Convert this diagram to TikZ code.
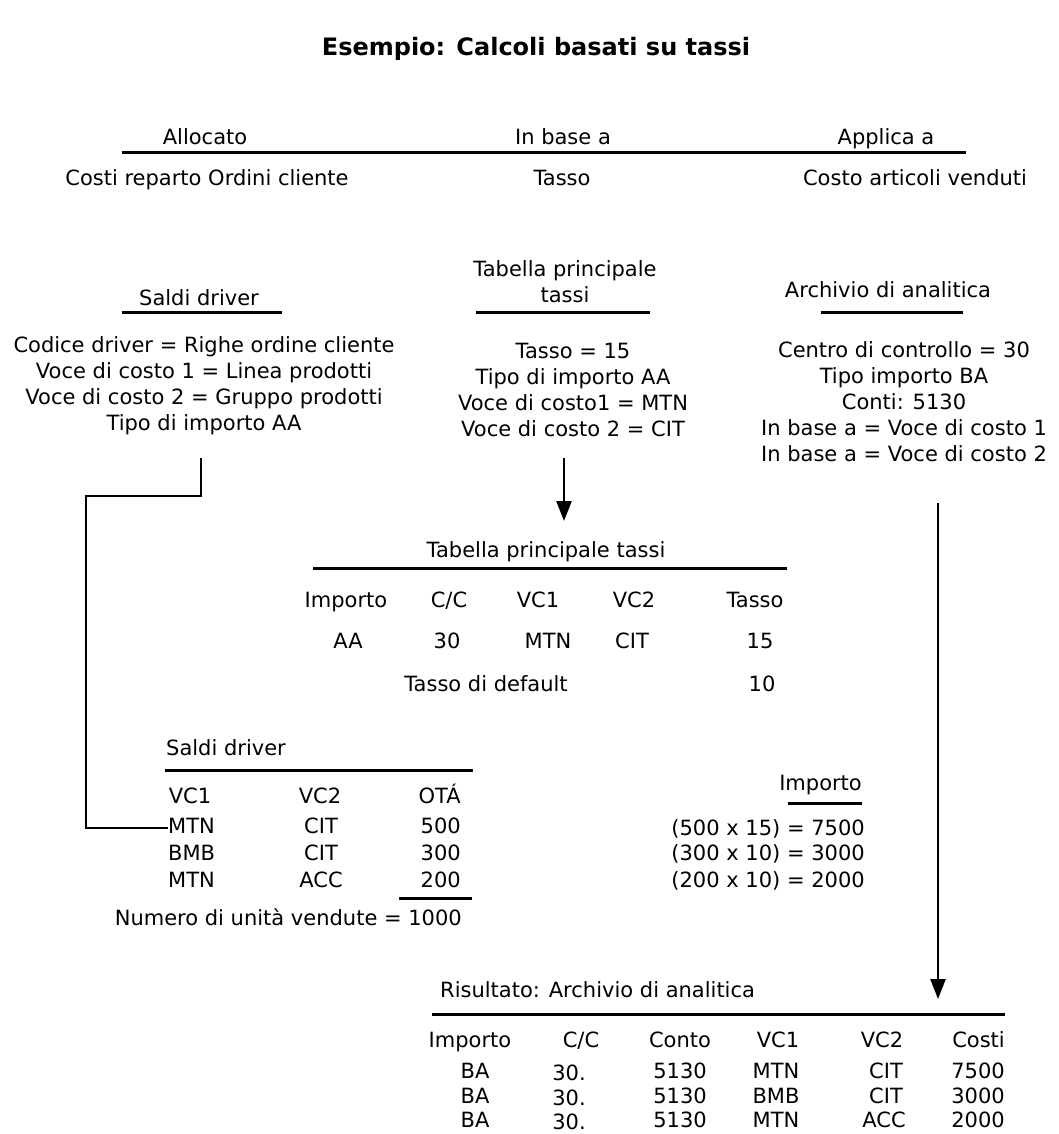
\documentclass[tikz,border=0pt]{standalone}
\usepackage{fontspec}
\setmainfont{DejaVu Sans}
\usepackage{tikz}
\usetikzlibrary{arrows.meta,positioning}

\begin{document}
\begin{tikzpicture}[x=1pt, y=-1pt,
    lbl/.style={inner sep=0pt, text height=16pt, text depth=5pt, font=\fontsize{21}{26}\selectfont},
    stack/.style={inner sep=0pt, align=center, font=\fontsize{21}{26}\selectfont},
    rule/.style={line width=3pt},
    conn/.style={line width=2.5pt},
    arrow/.style={line width=2.5pt, -{Triangle[length=20pt,width=15pt]}}
]
    \useasboundingbox (0,0) rectangle (1059,1134);

    \node[lbl, font=\bfseries\fontsize{24}{28}\selectfont] (title) at (536,50) {Esempio: Calcoli basati su tassi};

    % header row
    \node[lbl] (alloc) at (205,139) {Allocato};
    \node[lbl] (inbase) at (563,139) {In base a};
    \node[lbl] (applica) at (886,139) {Applica a};
    \draw[rule] (122,153) -- (966,153);
    \node[lbl] (costi) at (207,180) {Costi reparto Ordini cliente};
    \node[lbl] (tasso) at (562,180) {Tasso};
    \node[lbl] (cav) at (915,180) {Costo articoli venduti};

    % sources
    \node[lbl] (sdhead) at (199,300) {Saldi driver};
    \draw[rule] (122,312) -- (282,312);
    \node[stack] (tphead) at (565,282) {Tabella principale\\tassi};
    \draw[rule] (476,312) -- (650,312);
    \node[lbl] (anhead) at (888,292) {Archivio di analitica};
    \draw[rule] (821,312) -- (963,312);

    \node[stack] (sdtext) at (204,386) {Codice driver = Righe ordine cliente\\Voce di costo 1 = Linea prodotti\\Voce di costo 2 = Gruppo prodotti\\Tipo di importo AA};
    \node[stack] (tptext) at (573,390) {Tasso = 15\\Tipo di importo AA\\Voce di costo1 = MTN\\Voce di costo 2 = CIT};
    \node[stack] (antext) at (904,402) {Centro di controllo = 30\\Tipo importo BA\\Conti: 5130\\In base a = Voce di costo 1\\In base a = Voce di costo 2};

    % rate table
    \node[lbl] (tptitle) at (546,552) {Tabella principale tassi};
    \draw[rule] (313,568) -- (787,568);
    \node[lbl] (th1) at (346,602) {Importo};
    \node[lbl] (th2) at (449,602) {C/C};
    \node[lbl] (th3) at (538,602) {VC1};
    \node[lbl] (th4) at (634,602) {VC2};
    \node[lbl] (th5) at (755,602) {Tasso};
    \node[lbl] (tr1) at (348,643) {AA};
    \node[lbl] (tr2) at (447,643) {30};
    \node[lbl] (tr3) at (548,643) {MTN};
    \node[lbl] (tr4) at (632,643) {CIT};
    \node[lbl] (tr5) at (760,643) {15};
    \node[lbl] (tdef) at (486,686) {Tasso di default};
    \node[lbl] (tdval) at (762,686) {10};

    % driver balances
    \node[lbl, anchor=west] (sdtitle) at (166,750) {Saldi driver};
    \draw[rule] (165,770) -- (473,770);
    \node[lbl] (sh1) at (190,798) {VC1};
    \node[lbl] (sh2) at (320,798) {VC2};
    \node[lbl, anchor=east] (sh3) at (461,798) {OTÁ};
    \node[lbl, anchor=west] (mtn1) at (168,828) {MTN};
    \node[lbl] (cit1) at (321,828) {CIT};
    \node[lbl, anchor=east] (q1) at (461,828) {500};
    \node[lbl, anchor=west] (bmb) at (168,855) {BMB};
    \node[lbl] (cit2) at (321,855) {CIT};
    \node[lbl, anchor=east] (q2) at (461,855) {300};
    \node[lbl, anchor=west] (mtn3) at (168,882) {MTN};
    \node[lbl] (acc) at (321,882) {ACC};
    \node[lbl, anchor=east] (q3) at (461,882) {200};
    \draw[rule] (399,898) -- (472,898);
    \node[lbl, anchor=east] (numtot) at (462,920) {Numero di unità vendute = 1000};

    % amounts
    \node[lbl, anchor=east] (imphead) at (862,785) {Importo};
    \draw[rule] (788,803) -- (862,803);
    \node[lbl, anchor=east] (calc1) at (865,830) {(500 x 15) = 7500};
    \node[lbl, anchor=east] (calc2) at (865,855) {(300 x 10) = 3000};
    \node[lbl, anchor=east] (calc3) at (865,882) {(200 x 10) = 2000};

    % result
    \node[lbl, anchor=west] (rtitle) at (440,992) {Risultato: Archivio di analitica};
    \draw[rule] (432,1014) -- (1005,1014);
    \node[lbl] (rh1) at (470,1042) {Importo};
    \node[lbl] (rh2) at (581,1042) {C/C};
    \node[lbl] (rh3) at (680,1042) {Conto};
    \node[lbl] (rh4) at (778,1042) {VC1};
    \node[lbl] (rh5) at (882,1042) {VC2};
    \node[lbl, anchor=east] (rh6) at (1005,1042) {Costi};
    \node[lbl] (ra1) at (475,1073) {BA};
    \node[lbl] (ra2) at (569,1075) {30.};
    \node[lbl] (ra3) at (680,1073) {5130};
    \node[lbl] (ra4) at (776,1073) {MTN};
    \node[lbl] (ra5) at (886,1073) {CIT};
    \node[lbl, anchor=east] (ra6) at (1005,1073) {7500};
    \node[lbl] (rb1) at (475,1098) {BA};
    \node[lbl] (rb2) at (569,1100) {30.};
    \node[lbl] (rb3) at (680,1098) {5130};
    \node[lbl] (rb4) at (776,1098) {BMB};
    \node[lbl] (rb5) at (886,1098) {CIT};
    \node[lbl, anchor=east] (rb6) at (1005,1098) {3000};
    \node[lbl] (rc1) at (475,1122) {BA};
    \node[lbl] (rc2) at (569,1124) {30.};
    \node[lbl] (rc3) at (680,1122) {5130};
    \node[lbl] (rc4) at (776,1122) {MTN};
    \node[lbl] (rc5) at (884,1122) {ACC};
    \node[lbl, anchor=east] (rc6) at (1005,1122) {2000};

    % connectors
    \coordinate (sdout) at (201,458);
    \coordinate (tpout) at (564,458);
    \coordinate (tpin) at (564,521);
    \coordinate (anout) at (938,503);
    \coordinate (anin) at (938,999);
    \draw[conn] (sdout) -- ++(0,38) -| ([xshift=-82pt]mtn1.west) -- (mtn1.west);
    \draw[arrow] (tpout) -- (tpin);
    \draw[arrow] (anout) -- (anin);
\end{tikzpicture}
\end{document}
